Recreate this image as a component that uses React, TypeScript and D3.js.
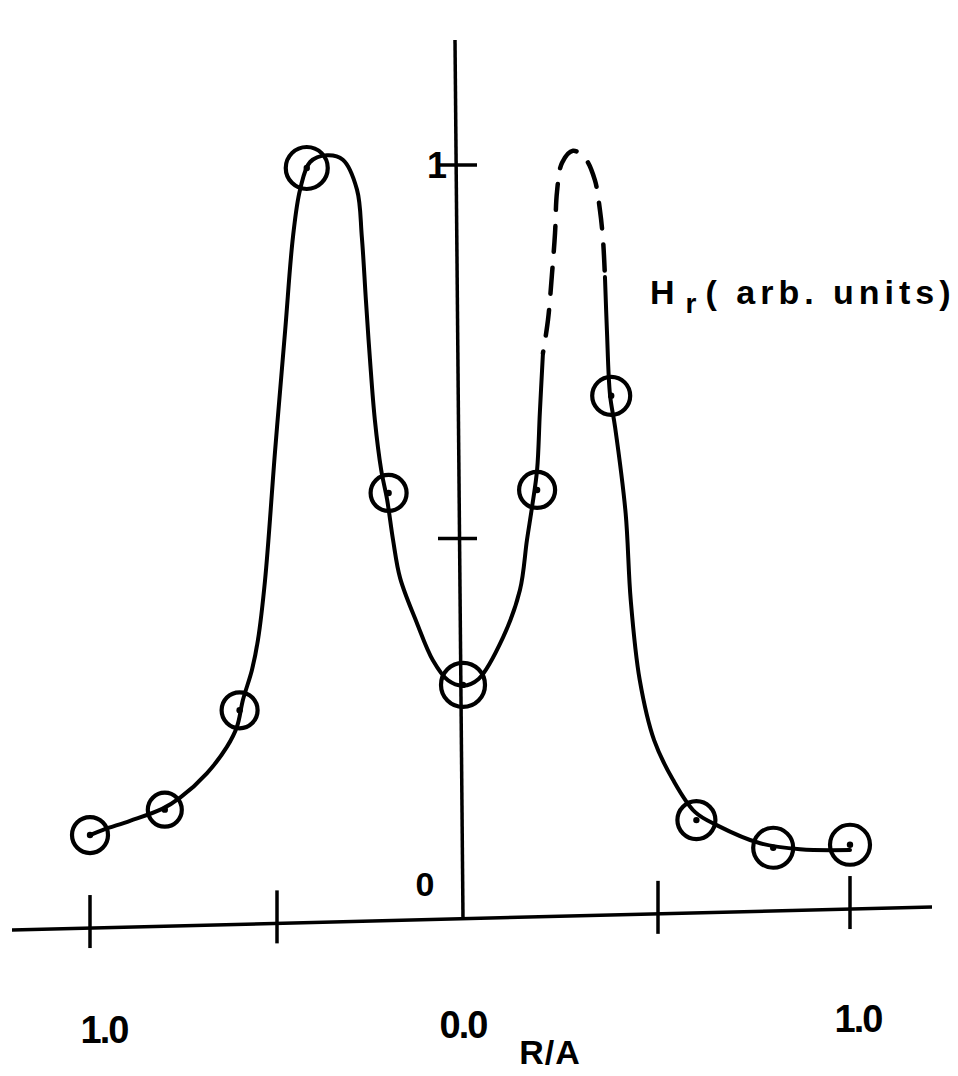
import React from "react";
import * as d3 from "d3";

// ---- data (R/A, Hr in arb. units) ----
const pointR = [-1.0, -0.8, -0.6, -0.42, -0.2, 0.0, 0.19, 0.38, 0.6, 0.8, 1.0];
const pointH = [0.103, 0.137, 0.27, 0.996, 0.561, 0.304, 0.565, 0.691, 0.123, 0.086, 0.09];

const solidLeftR = [-1.0, -0.965, -0.893, -0.807, -0.759, -0.687, -0.634, -0.607, -0.591, -0.567, -0.551, -0.532, -0.505, -0.478, -0.457, -0.438, -0.411, -0.366, -0.323, -0.285, -0.272, -0.261, -0.25, -0.237, -0.22, -0.204, -0.188, -0.169, -0.124, -0.081, -0.04, 0.0, 0.04, 0.103, 0.146, 0.164, 0.177, 0.19, 0.197, 0.205];
const solidLeftH = [0.103, 0.11, 0.122, 0.138, 0.153, 0.186, 0.221, 0.248, 0.284, 0.324, 0.364, 0.444, 0.618, 0.779, 0.904, 0.967, 1.004, 1.013, 1.007, 0.967, 0.904, 0.819, 0.739, 0.659, 0.592, 0.552, 0.498, 0.447, 0.387, 0.337, 0.31, 0.303, 0.312, 0.368, 0.431, 0.498, 0.542, 0.592, 0.668, 0.748];

const dashedR = [0.205, 0.218, 0.228, 0.236, 0.241, 0.254, 0.282, 0.313, 0.338, 0.351, 0.359, 0.364];
const dashedH = [0.748, 0.793, 0.853, 0.909, 0.964, 1.003, 1.019, 1.009, 0.98, 0.94, 0.9, 0.85];

const solidRightR = [0.364, 0.369, 0.377, 0.39, 0.417, 0.43, 0.453, 0.49, 0.539, 0.596, 0.654, 0.766, 0.87, 1.0];
const solidRightH = [0.85, 0.779, 0.692, 0.649, 0.534, 0.418, 0.311, 0.23, 0.177, 0.134, 0.116, 0.092, 0.084, 0.083];

const xTicks = [-1.0, -0.5, 0.0, 0.5, 1.0];
const xTickLabels = [
  { v: -1.0, t: "1.0" },
  { v: 0.0, t: "0.0" },
  { v: 1.0, t: "1.0" },
];
const yTicks = [0.5, 1.0];

// ---- styles ----
const markerR = [18, 17, 18, 21, 18, 22, 18, 19, 19, 20, 20];
const labelDx = [14, 0, 8];
const labelY = [1043, 1038, 1032];

export default function App() {
  const W = 958;
  const H = 1076;
  const x = d3.scaleLinear().domain([-1, -0.5, 0, 0.5, 1]).range([90, 277, 463, 658, 850]);
  const y = d3.scaleLinear().domain([0, 1]).range([912, 165]);

  // hand-drawn axis tilt
  const axisY = (px: number) => 930 - (px - 12) * (23 / 920);

  const line = d3
    .line<[number, number]>()
    .x((d) => x(d[0]))
    .y((d) => y(d[1]))
    .curve(d3.curveCatmullRom.alpha(0.5));

  const zip = (a: number[], b: number[]) => a.map((v, i) => [v, b[i]] as [number, number]);

  const font = "'Liberation Sans', Arial, sans-serif";
  const xAxisX0 = 12;
  const xAxisX1 = 932;

  return (
    <svg width={W} height={H} style={{ position: "absolute", left: 0, top: 0, background: "#fff" }}>
      <rect width={W} height={H} fill="#fff" />
      {/* x axis */}
      <line x1={xAxisX0} y1={axisY(xAxisX0)} x2={xAxisX1} y2={axisY(xAxisX1)} stroke="#000" strokeWidth={3.5} />
      {xTicks
        .filter((t) => t !== 0)
        .map((t) => {
          const px = x(t);
          const ay = axisY(px);
          return <line key={t} x1={px} x2={px} y1={ay - 33} y2={ay + 20} stroke="#000" strokeWidth={3.5} />;
        })}
      {/* y axis */}
      <line x1={455} y1={40} x2={x(0)} y2={axisY(x(0))} stroke="#000" strokeWidth={3.5} />
      {yTicks.map((t) => (
        <line key={t} x1={438} x2={477} y1={y(t)} y2={y(t)} stroke="#000" strokeWidth={3.5} />
      ))}
      {/* curves */}
      <path d={line(zip(solidLeftR, solidLeftH)) || ""} fill="none" stroke="#000" strokeWidth={4} strokeLinecap="round" />
      <path
        d={line(zip(dashedR, dashedH)) || ""}
        fill="none"
        stroke="#000"
        strokeWidth={4.5}
        strokeDasharray="26 16"
        strokeDashoffset={-18}
        strokeLinecap="round"
      />
      <path d={line(zip(solidRightR, solidRightH)) || ""} fill="none" stroke="#000" strokeWidth={4} strokeLinecap="round" />
      {/* markers */}
      {pointR.map((r, i) => (
        <g key={i}>
          <circle cx={x(r)} cy={y(pointH[i])} r={markerR[i]} fill="none" stroke="#000" strokeWidth={4.2} />
          <circle cx={x(r)} cy={y(pointH[i])} r={3.2} fill="#000" />
        </g>
      ))}
      {/* labels */}
      <g fontFamily={font} fontWeight="bold" fill="#000">
        {xTickLabels.map((l, i) => (
          <text key={i} x={x(l.v) + labelDx[i]} y={labelY[i]} fontSize={38} textAnchor="middle" letterSpacing={-2}>
            {l.t}
          </text>
        ))}
        <text x={550} y={1064} fontSize={34} textAnchor="middle" letterSpacing={1}>R/A</text>
        <text x={425} y={896} fontSize={34} textAnchor="middle">0</text>
        <text x={437} y={178} fontSize={36} textAnchor="middle">1</text>
        <text x={650} y={304} fontSize={34} letterSpacing={5}>
          H<tspan fontSize={28} dy={9} dx={6}>r</tspan>
          <tspan dy={-9} dx={4}>( arb. units)</tspan>
        </text>
      </g>
    </svg>
  );
}
